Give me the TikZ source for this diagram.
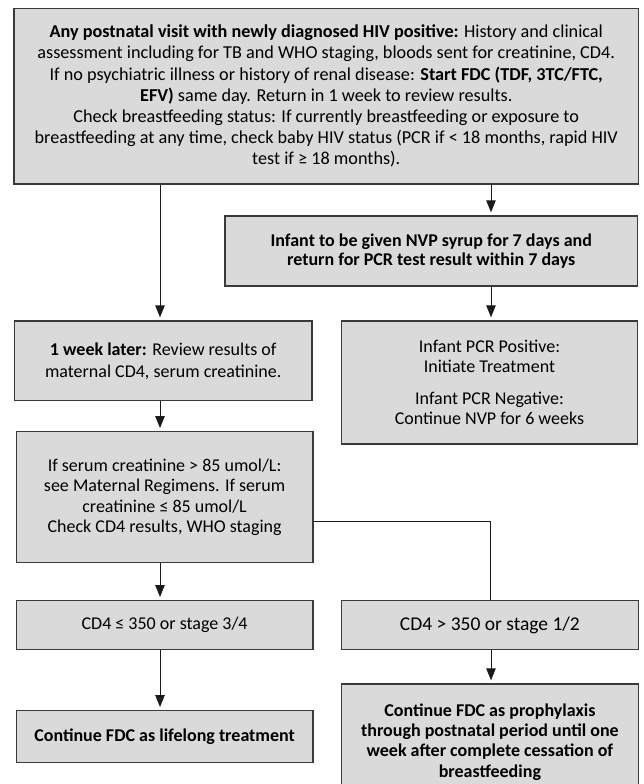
\documentclass[tikz,border=0pt]{standalone}
\usepackage{fontspec}
\setmainfont{Carlito}
\usetikzlibrary{arrows.meta}
\definecolor{boxfill}{HTML}{DADADA}
\definecolor{boxline}{HTML}{3A3A3A}
\definecolor{lnk}{HTML}{1A1A1A}
\tikzset{
  flowbox/.style={draw=boxline, fill=boxfill, line width=1.4pt, inner sep=0pt, align=center,
    font=\fontsize{18}{20.5}\selectfont},
  arr/.style={draw=lnk, line width=0.9pt, -{Triangle[length=12pt,width=9.5pt]}, shorten >=3pt},
  plainline/.style={draw=lnk, line width=0.9pt}
}
\begin{document}
\begin{tikzpicture}[x=1pt,y=-1pt]
\useasboundingbox (0,0) rectangle (644,784);
\node[flowbox, minimum width=624.5pt, minimum height=175.5pt, font=\fontsize{18.2}{21.2}\selectfont] (top) at (326.25,96.25)
 {\textbf{Any postnatal visit with newly diagnosed HIV positive:} History and clinical\\
  assessment including for TB and WHO staging, bloods sent for creatinine, CD4.\\
  If no psychiatric illness or history of renal disease: \textbf{Start FDC (TDF, 3TC/FTC,}\\
  \textbf{EFV)} same day. Return in 1 week to review results.\\
  Check breastfeeding status: If currently breastfeeding or exposure to\\
  breastfeeding at any time, check baby HIV status (PCR if < 18 months, rapid HIV\\
  test if ≥ 18 months).};
\node[flowbox, minimum width=412.5pt, minimum height=70pt, font=\bfseries\fontsize{18}{19.5}\selectfont] (nvp) at (431.25,251)
 {Infant to be given NVP syrup for 7 days and\\ return for PCR test result within 7 days};
\node[flowbox, minimum width=297.6pt, minimum height=79.7pt, font=\fontsize{18}{22}\selectfont] (week) at (163.2,360.85)
 {\textbf{1 week later:} Review results of\\ maternal CD4, serum creatinine.};
\node[flowbox, minimum width=296pt, minimum height=123pt] (pcr) at (489.5,382.5)
 {Infant PCR Positive:\\ Initiate Treatment\\[11pt] Infant PCR Negative:\\ Continue NVP for 6 weeks};
\node[flowbox, minimum width=296.4pt, minimum height=131pt] (serum) at (164.6,497.2)
 {If serum creatinine > 85 umol/L:\\ see Maternal Regimens. If serum\\ creatinine ≤ 85 umol/L\\ Check CD4 results, WHO staging};
\node[flowbox, minimum width=296.4pt, minimum height=48.6pt] (cdl) at (164.6,625)
 {CD4 ≤ 350 or stage 3/4};
\node[flowbox, minimum width=296.8pt, minimum height=48.6pt, font=\fontsize{19.5}{22}\selectfont] (cdr) at (489.9,625)
 {CD4 > 350 or stage 1/2};
\node[flowbox, minimum width=296.4pt, minimum height=52pt, font=\bfseries\fontsize{18}{20.5}\selectfont] (finl) at (164.6,736.7)
 {Continue FDC as lifelong treatment};
\node[flowbox, minimum width=296.8pt, minimum height=116pt, font=\bfseries\fontsize{18}{20.3}\selectfont] (finr) at (489.9,742)
 {Continue FDC as prophylaxis\\ through postnatal period until one\\ week after complete cessation of\\ breastfeeding};
\coordinate (lx) at (160,0);
\coordinate (rx) at (491,0);
\coordinate (turn) at (490,521.7);
\draw[arr] (top.south -| lx) -- (week.north -| lx);
\draw[arr] (top.south -| rx) -- (nvp.north -| rx);
\draw[arr] (nvp.south -| rx) -- (pcr.north -| rx);
\draw[arr] (week.south -| lx) -- (serum.north -| lx);
\draw[arr] (serum.south -| lx) -- (cdl.north -| lx);
\draw[plainline] (serum.east |- turn) -- (turn) -- (cdr.north -| turn);
\draw[arr] (cdl.south -| lx) -- (finl.north -| lx);
\draw[arr] (cdr.south -| rx) -- (finr.north -| rx);
\end{tikzpicture}
\end{document}
